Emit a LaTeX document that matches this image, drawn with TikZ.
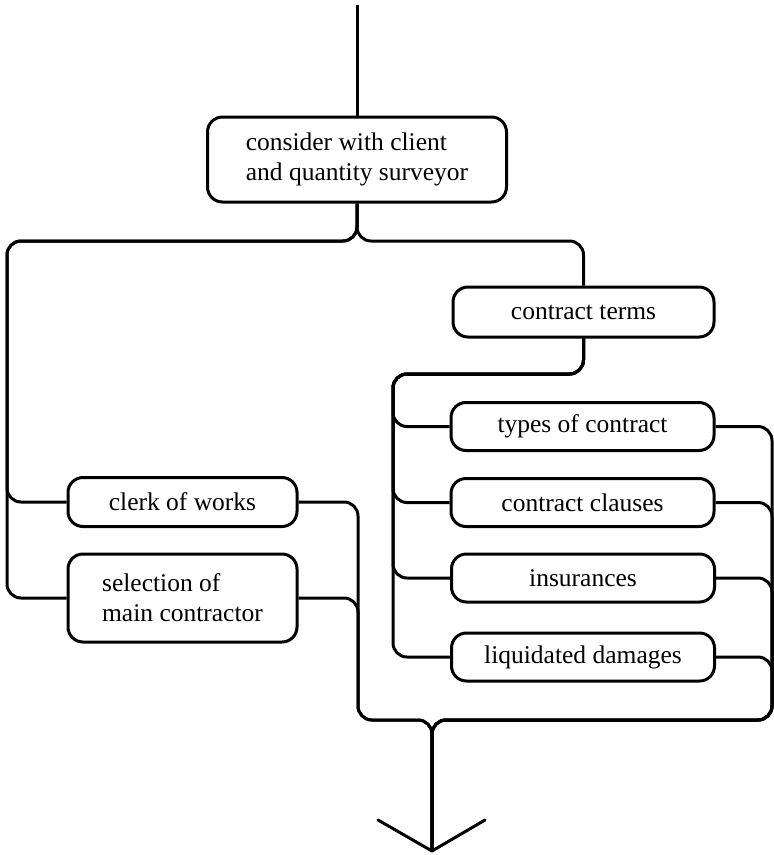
\documentclass[tikz,border=0pt]{standalone}
\usepackage{fontspec}
\setmainfont{Liberation Serif}
\begin{document}
\begin{tikzpicture}[x=1pt,y=-1pt,
  line width=3pt,
  box/.style={draw, rounded corners=15pt, inner sep=0pt, align=center,
    font=\fontsize{25.5}{30}\selectfont},
  wide/.style={minimum width=263pt, minimum height=48pt},
  narrow/.style={minimum width=229pt},
  link/.style={rounded corners=14pt}]
\useasboundingbox (0,0) rectangle (774,855);

% boxes
\node[box, minimum width=299pt, minimum height=85pt, align=left] (cq) at (357,159.5)
  {consider with client\\and quantity surveyor};
\node[box, minimum width=261pt, minimum height=50pt] (ct) at (583.5,312) {contract terms};
\node[box, wide] (tc)  at (582.5,426.5) {types of contract};
\node[box, wide] (cc)  at (582.5,502.5) {contract clauses};
\node[box, wide] (ins) at (583,578)     {insurances};
\node[box, wide] (ld)  at (583,657)     {liquidated damages};
\node[box, narrow, minimum height=49pt] (cw) at (182.5,502) {clerk of works};
\node[box, narrow, minimum height=88pt, align=left] (sel) at (182.5,598)
  {selection of\\main contractor};

% routing points
\coordinate (top) at (357,5);
\coordinate (jt)  at (357,241);
\coordinate (lt)  at (7,241);
\coordinate (ctt) at (393,374);
\coordinate (rb)  at (772,720);
\coordinate (lb)  at (358,720);
\coordinate (tip) at (432,851);
\coordinate (al)  at (378,820);
\coordinate (ar)  at (485,820);

% incoming line
\draw (top) -- (cq.north);

% split below the first box
\draw[link] (cq.south) -- (jt) -- (lt) |- (cw.west);
\draw[link] (cq.south) -- (jt) -- (lt) |- (sel.west);
\draw[link] (cq.south) -- (jt) -| (ct.north);

% contract terms branches
\foreach \n in {tc,cc,ins,ld}
  \draw[link] (ct.south) |- (ctt) |- (\n.west);

% merge into the outgoing line
\foreach \n in {tc,cc,ins,ld}
  \draw[link] (\n.east) -| (rb) -| (tip);
\foreach \n in {cw,sel}
  \draw[link] (\n.east) -| (lb) -| (tip);

% open arrowhead
\draw[line cap=round, line join=round] (al) -- (tip) -- (ar);
\end{tikzpicture}
\end{document}
